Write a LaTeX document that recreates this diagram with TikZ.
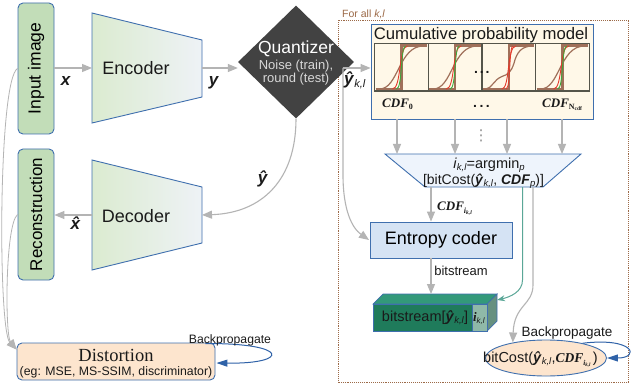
\documentclass[tikz,border=0pt]{standalone}
\usepackage{fontspec}
\setmainfont{Liberation Sans}
\newfontfamily\serifB{Liberation Serif}
\newfontfamily\dejavu{DejaVu Sans}
\usetikzlibrary{arrows.meta,shapes.geometric,calc}
\definecolor{bord}{HTML}{3F6FAE}
\definecolor{arrg}{HTML}{B4B4B4}
\definecolor{quant}{HTML}{424242}
\definecolor{qtext}{HTML}{D8D8D8}
\definecolor{peach}{HTML}{FDE5CE}
\definecolor{imgg}{HTML}{C2DDB8}
\definecolor{encl}{HTML}{DBEBD0}
\definecolor{encr}{HTML}{EEF2F6}
\definecolor{cream}{HTML}{FFF8E8}
\definecolor{entc}{HTML}{D5E3F4}
\definecolor{argc}{HTML}{EEF4FC}
\definecolor{brownl}{HTML}{A0705A}
\definecolor{framec}{HTML}{9C6A48}
\definecolor{tealc}{HTML}{5AA797}
\definecolor{bluea}{HTML}{2F62A8}
\definecolor{dgreen}{HTML}{1F7B5B}
\definecolor{mgreen}{HTML}{33997A}
\definecolor{lgreen}{HTML}{8FB9A8}
\definecolor{sgreen}{HTML}{66907F}
\definecolor{panelb}{HTML}{55554A}
\definecolor{redc}{HTML}{E23A2A}
\definecolor{greenc}{HTML}{3DAA3D}
\definecolor{txtc}{HTML}{1A1A1A}
\newcommand{\fs}[1]{\fontsize{#1}{#1}\selectfont}
\newcommand{\bi}[1]{\textbf{\textit{#1}}}
\newcommand{\klsub}[2]{\raisebox{-#1}{\fs{#2}\textit{k,l}}}
\newcommand{\cdfs}[1]{{\serifB\bfseries\itshape\fs{#1}CDF}}
\begin{document}
\begin{tikzpicture}[x=1pt,y=-1pt,
  garrow/.style={draw=arrg, line width=1.1pt, -{Triangle[length=10pt,width=8pt]}},
  tarrow/.style={draw=tealc, line width=1pt, -{Stealth[length=8pt,width=6pt]}},
  barrow/.style={draw=bluea, line width=1pt, -{Triangle[length=11pt,width=7pt]}},
  imgbox/.style={draw=bord, fill=imgg, rounded corners=5pt, line width=0.9pt, inner sep=0pt, rotate=90, minimum width=131pt, minimum height=36pt},
  txt/.style={inner sep=0pt, anchor=base, text=txtc},
  trap/.style={draw=bord, line width=0.9pt, left color=encl, right color=encr},
]
\useasboundingbox (0,0) rectangle (637,385);
\fill[white] (0,0) rectangle (637,385);

% dotted frame
\draw[framec, densely dotted, line width=0.9pt] (338,20.5) rectangle (628.5,382.5);
\node[txt, anchor=base west, text=framec] (forall) at (342,17.5) {\fs{10.5}For all \textit{k,l}};

% image boxes
\node[imgbox] (inp) at (36,68.5) {\fs{17.5}Input image};
\node[imgbox] (rec) at (36,214.5) {\fs{17}Reconstruction};

% encoder / decoder
\path[trap] (92,13) -- (202,40) -- (202,97) -- (92,123) -- cycle;
\node[txt] (enc) at (136,75) {\fs{18}Encoder};
\coordinate (encL) at (92,68);
\coordinate (encR) at (202,68);
\path[trap] (92,160) -- (202,187) -- (202,243) -- (92,270) -- cycle;
\node[txt] (dec) at (136,222) {\fs{18}Decoder};
\coordinate (decL) at (92,215);
\coordinate (decR) at (202,215);

% quantizer
\node[diamond, fill=quant, minimum width=116pt, minimum height=113pt, inner sep=0pt] (q) at (296,62) {};
\node[txt, text=white] (qt1) at (296,53.5) {\fs{17.5}Quantizer};
\node[txt, text=qtext] (qt2) at (296,69.5) {\fs{13}Noise (train),};
\node[txt, text=qtext] (qt3) at (296,83) {\fs{13}round (test)};

% left-side arrows
\draw[garrow] (inp.south |- encL) -- (encL);
\node[txt] (xl) at (66,85.5) {\fs{17}\bi{x}};
\draw[garrow] (encR) -- (encR -| q.west);
\node[txt] (yl) at (214,86) {\fs{17}\bi{y}};
\draw[garrow] (q.south) .. controls (296,180) and (262,213) .. (decR);
\node[txt] (yhl) at (263,183) {\fs{17}\bi{ŷ}};
\draw[garrow] (decL) -- (decL -| rec.south);
\node[txt] (xhl) at (77,229.5) {\fs{17}\bi{\^{x}}};

% distortion
\node[draw=bord, fill=peach, rounded corners=5pt, minimum width=198pt, minimum height=37pt, inner sep=0pt, line width=0.9pt] (dist) at (116,361.5) {};
\node[txt] (dt1) at (116,361.5) {\serifB\fs{18.5}Distortion};
\node[txt] (dt2) at (116,375) {\fs{12.3}(eg: MSE, MS-SSIM, discriminator)};
\coordinate (dtip) at ($(dist.north west)+(0,7)$);
\draw[garrow, line width=0.8pt] (inp.north) .. controls (-2,80) and (-2,330) .. (dtip);
\draw[garrow, line width=0.8pt] (rec.north) .. controls (5,225) and (5,335) .. (dtip);
\draw[barrow] ($(dist.north east)+(-10,1)$) .. controls (290,343) and (290,364) .. ($(dist.east)+(1,1.5)$);
\node[txt] (bp1) at (230,343.5) {\fs{12.2}Backpropagate};

% cumulative probability model
\node[draw=bord, fill=cream, minimum width=222pt, minimum height=95pt, line width=0.9pt, inner sep=0pt] (cpm) at (482,71.5) {};
\node[txt] (cpmt) at (481,39.3) {\fs{16.7}Cumulative probability model};
\foreach \px [count=\n] in {374.5,428.2,481.9,535.6}{
  \begin{scope}[shift={(\px,43.5)}]
    \fill[cream] (0,0) rectangle (53.7,47.5);
    \draw[brownl, line width=2.4pt] (1.2,45.6) -- (27,45.6) -- (27,2.2) -- (52.5,2.2);
    \ifnum\n=3
      \draw[brownl, line width=1.2pt] (4,45.5) .. controls (10,45) and (12,36) .. (20,33) .. controls (26,31) and (29,29) .. (32,20) .. controls (35,8) and (40,3) .. (50,2.5);
      \draw[redc, line width=0.9pt] (20,45.5) .. controls (28,45.5) and (25,2.5) .. (34,2.5);
      \draw[redc, line width=0.8pt] (24,45.5) .. controls (29,45.5) and (27,2.5) .. (31,2.5);
    \else
      \draw[brownl, line width=1.2pt] (5,45.5) .. controls (24,45.5) and (24,2.5) .. (49,2.5);
      \draw[redc, line width=0.9pt] (18,45.5) .. controls (27,45.5) and (24,2.5) .. (33,2.5);
      \draw[greenc, line width=0.9pt] (22,45.5) .. controls (28,45.5) and (26,2.5) .. (31,2.5);
    \fi
    \draw[panelb, line width=1.3pt] (0,0) rectangle (53.7,47.5);
  \end{scope}
}
\node[txt] (pdots) at (481.8,74) {\fs{14}\textbf{.\kern1.8pt.\kern1.8pt.}};
\node[txt, anchor=base west] (cdf0) at (382,107.3) {\cdfs{13}\raisebox{-2.5pt}{\serifB\bfseries\fs{8}0}};
\node[txt] (cdfd) at (481.5,107.3) {\fs{14}\textbf{.\kern2.5pt.\kern2.5pt.}};
\node[txt, anchor=base west] (cdfn) at (542,107.3) {\cdfs{13}\raisebox{-2.5pt}{\serifB\bfseries\fs{8}N\raisebox{-1pt}{\fs{5.5}cdf}}};
\node[txt, text=arrg!80!black] (vdots) at (481,140) {\dejavu\fs{15}⋮};

% yhat_kl into model and entropy coder
\coordinate (qj) at (343,68);
\draw[garrow] (qj) -- (qj -| cpm.west);
\draw[garrow] (qj) -- (343,175) .. controls (343,210) and (352,228) .. (369,240);
\node[txt, anchor=base west] (ykl) at (344,85) {\fs{17}\bi{ŷ}\klsub{2.5pt}{11}};

% argmin trapezoid
\path[draw=bord, fill=argc, line width=0.9pt] (385,154) -- (581,154) -- (543,187) -- (425,187) -- cycle;
\foreach \i/\ax in {1/397,2/455,3/507,4/562}{
  \coordinate (a\i) at (\ax,154);
  \draw[garrow] (cpm.south -| a\i) -- (a\i);
}
\node[txt] (arg1) at (489,168) {\fs{14.5}\textit{i}\klsub{2pt}{9.5}=argmin\raisebox{-2pt}{\fs{9.5}\textit{p}}};
\node[txt] (arg2) at (483.5,184) {\fs{14}[bitCost(\bi{ŷ}\klsub{2pt}{9.5}, \bi{CDF}\raisebox{-2pt}{\fs{9.5}\textit{p}})]};
\coordinate (ab1) at (431,187);
\coordinate (ab2) at (522.5,187);
\coordinate (ab3) at (533,187);

% entropy coder
\node[draw=bord, fill=entc, minimum width=142pt, minimum height=36pt, inner sep=0pt, line width=0.9pt] (ent) at (441,240) {\fs{18}Entropy coder};
\draw[garrow] (ab1) -- (ab1 |- ent.north);
\node[txt, anchor=base west] (cdfi) at (437,210.5) {\cdfs{13}\raisebox{-2.5pt}{\serifB\bfseries\itshape\fs{8}i\raisebox{-1.2pt}{\fs{5.5}k,l}}};

% bitstream block
\path[draw=bord, fill=mgreen, line width=0.7pt] (373,304) -- (383,294) -- (497,294) -- (487,304) -- cycle;
\path[draw=bord, fill=sgreen, line width=0.7pt] (487,304) -- (497,294) -- (497,321) -- (487,331) -- cycle;
\node[draw=bord, fill=dgreen, minimum width=99pt, minimum height=27pt, inner sep=0pt, line width=0.7pt] (bs) at (422.5,317.5) {};
\node[draw=bord, fill=lgreen, minimum width=15pt, minimum height=27pt, inner sep=0pt, line width=0.7pt] (bsi) at (479.5,317.5) {};
\node[txt] (bst) at (425,321) {\fs{14.5}bitstream[\bi{ŷ}\klsub{2pt}{9.5}]};
\node[txt] (bsit) at (479,321.5) {{\serifB\bfseries\itshape\fs{13}i}\raisebox{-2pt}{\fs{8}\textit{k,l}}};
\coordinate (bsT) at (431,294);
\coordinate (bsSide) at (497,300);
\draw[garrow] (ab1 |- ent.south) -- (bsT);
\node[txt] (bsl) at (461,275) {\fs{13}bitstream};

% bitcost ellipse
\node[ellipse, draw=bord, fill=peach, minimum width=121pt, minimum height=36pt, inner sep=0pt, line width=0.9pt] (bc) at (546,358) {};
\node[txt, anchor=base west] (bct) at (483,362.5) {\fs{14.5}bitCost(\bi{ŷ}\klsub{2pt}{9.5},\cdfs{13.5}\raisebox{-3pt}{\serifB\bfseries\itshape\fs{7.5}i\raisebox{-1.3pt}{\fs{5}k,l}}\,)};
\draw[tarrow] (ab2) -- (522.5,280) .. controls (522.5,292) and (510,297) .. (bsSide);
\draw[garrow] (ab3) -- (533,285) .. controls (533,305) and (514,305) .. (bc.155);
\draw[barrow] (bc.22) .. controls (635,337) and (640,358) .. (bc.east);
\node[txt] (bp2) at (567,336) {\fs{13.5}Backpropagate};
\end{tikzpicture}
\end{document}
